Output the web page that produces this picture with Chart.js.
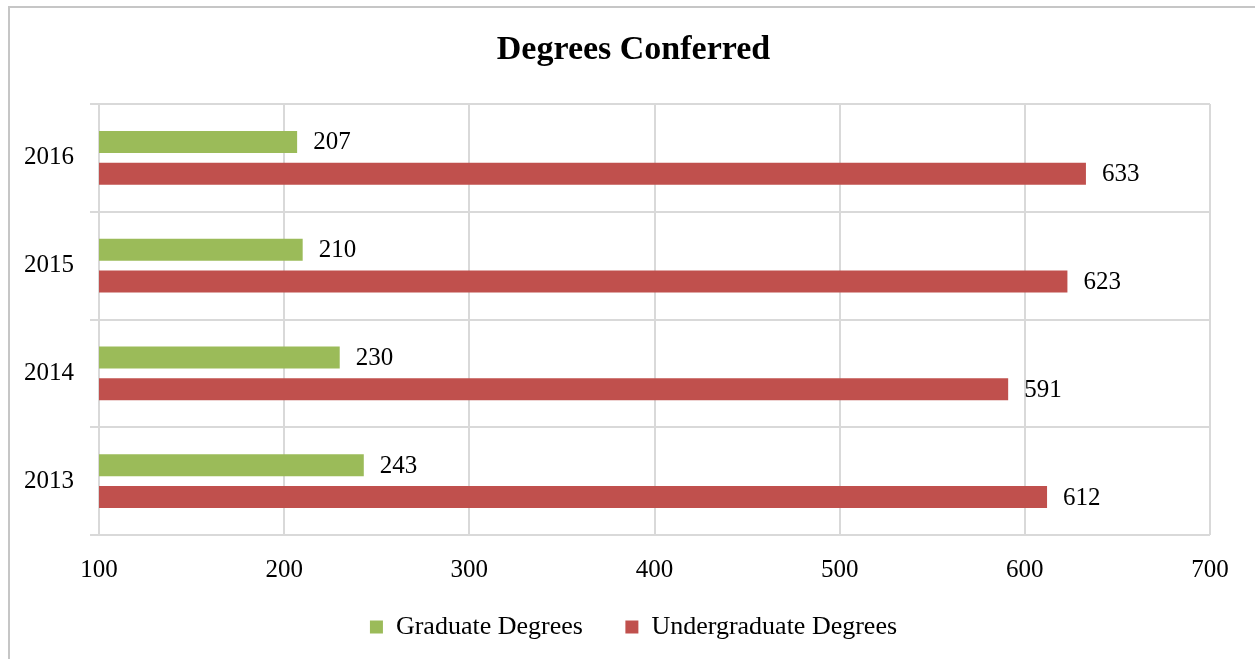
<!DOCTYPE html>
<html>
<head>
<meta charset="utf-8">
<script src="https://cdn.jsdelivr.net/npm/chart.js@4"></script>
<style>
  html, body { margin: 0; padding: 0; background: #fff; }
  #wrap { width: 1255px; height: 659px; position: relative; }
</style>
</head>
<body>
<div id="wrap"><canvas id="grafico" width="1255" height="659"></canvas></div>
<script>
var anos = ['2016', '2015', '2014', '2013'] // categorias, de cima pra baixo
var graduacaoPos = [207, 210, 230, 243] // Graduate Degrees
var graduacao = [633, 623, 591, 612] // Undergraduate Degrees
var ticksX = [100, 200, 300, 400, 500, 600, 700]

var fonte = "'Liberation Serif', 'DejaVu Serif', serif"

// moldura cinza em volta do grafico
var moldura = {
  id: 'moldura',
  beforeDraw: function(chart) {
    var c = chart.ctx
    c.save()
    c.fillStyle = '#fff'
    c.fillRect(0, 0, chart.width, chart.height)
    c.strokeStyle = '#c6c6c6'
    c.lineWidth = 2
    c.strokeRect(9, 7, 1300, 700)
    c.restore()
  }
}

// numeros na ponta das barras
var rotulos = {
  id: 'rotulos',
  afterDatasetsDraw: function(chart) {
    var c = chart.ctx
    c.save()
    c.font = '25px ' + fonte
    c.fillStyle = '#000'
    c.textBaseline = 'middle'
    c.textAlign = 'left'
    chart.data.datasets.forEach(function(ds, i) {
      chart.getDatasetMeta(i).data.forEach(function(bar, j) {
        c.fillText(ds.data[j], bar.x + 16, bar.y + 1)
      })
    })
    c.restore()
  }
}

var ctx = document.getElementById('grafico').getContext('2d');
var chart = new Chart(ctx, {
  type: 'bar',
  data: {
    labels: anos,
    datasets: [{
      label: 'Graduate Degrees',
      data: graduacaoPos,
      backgroundColor: '#9BBB59',
      categoryPercentage: 0.593,
      barPercentage: 0.69
    }, {
      label: 'Undergraduate Degrees',
      data: graduacao,
      backgroundColor: '#C0504D',
      categoryPercentage: 0.593,
      barPercentage: 0.69
    }]
  },
  options: {
    indexAxis: 'y',
    responsive: false,
    animation: false,
    layout: { padding: { left: 12, right: 0, top: 20, bottom: 9 } },
    scales: {
      x: {
        min: 100,
        max: 700,
        afterBuildTicks: function(axis) {
          axis.ticks = ticksX.map(function(v) { return { value: v } })
        },
        afterFit: function(axis) { axis.height -= 1 },
        grid: { color: '#d9d9d9', lineWidth: 2, drawTicks: false },
        border: { display: false },
        ticks: { padding: 20, color: '#000', font: { family: fonte, size: 25 } }
      },
      y: {
        afterFit: function(axis) { axis.width = 87 },
        grid: { color: '#d9d9d9', lineWidth: 2, tickLength: 9 },
        border: { color: '#d9d9d9', width: 2 },
        ticks: { padding: 16, color: '#000', font: { family: fonte, size: 25 } }
      },
      // eixo vazio a direita so pra dar a margem
      margemDir: {
        type: 'category',
        position: 'right',
        grid: { display: false },
        border: { display: false },
        ticks: { display: false },
        afterFit: function(axis) { axis.width = 45 }
      }
    },
    plugins: {
      title: {
        display: true,
        text: 'Degrees Conferred',
        color: '#000',
        font: { family: fonte, size: 34, weight: 'bold' },
        padding: { top: 10, bottom: 33.2 }
      },
      legend: {
        position: 'bottom',
        labels: {
          color: '#000',
          boxWidth: 13,
          boxHeight: 13,
          padding: 10,
          font: { family: fonte, size: 26 },
          generateLabels: function(ch) {
            var itens = Chart.defaults.plugins.legend.labels.generateLabels(ch)
            // espaco entre os dois itens
            itens[0].text = itens[0].text + '     '
            return itens
          }
        }
      },
      tooltip: { enabled: false }
    }
  },
  plugins: [moldura, rotulos]
});
</script>
</body>
</html>
